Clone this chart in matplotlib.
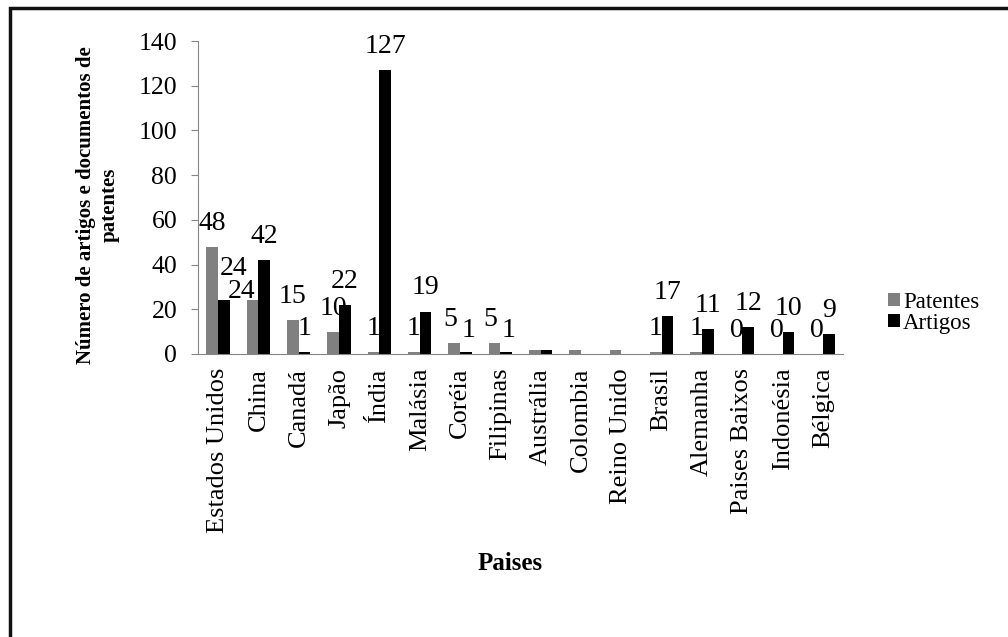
import matplotlib
matplotlib.use("Agg")
import matplotlib.pyplot as plt
from matplotlib.patches import Rectangle
import numpy as np

paises = [
    "Estados Unidos", "China", "Canadá", "Japão", "Índia", "Malásia",
    "Coréia", "Filipinas", "Austrália", "Colombia", "Reino Unido",
    "Brasil", "Alemanha", "Paises Baixos", "Indonésia", "Bélgica",
]
patentes = [48, 24, 15, 10, 1, 1, 5, 5, 2, 2, 2, 1, 1, 0, 0, 0]
artigos = [24, 42, 1, 22, 127, 19, 1, 1, 2, 0, 0, 17, 11, 12, 10, 9]
# countries whose bars carry no value label
sem_rotulo = ["Austrália", "Colombia", "Reino Unido"]

plt.rcParams["font.family"] = ["Liberation Serif", "DejaVu Serif"]

fig = plt.figure(figsize=(10.08, 6.37), dpi=100)
ax = fig.add_axes([0.1964, 0.4443, 0.6400, 0.4913])

x = np.arange(len(paises))
w = 0.29
bp = ax.bar(x - w / 2, patentes, w, color="#808080", label="Patentes")
ba = ax.bar(x + w / 2, artigos, w, color="#000000", label="Artigos")

# small nudges where labels would sit on top of each other
ajustes = {("A", 0): (7, 6), ("P", 1): (-8, -11), ("P", 6): (-3, 0),
           ("P", 7): (-3, 0), ("A", 6): (2, -2), ("A", 7): (2, -2)}

for serie, barras, valores in (("P", bp, patentes), ("A", ba, artigos)):
    for i, (rect, v) in enumerate(zip(barras, valores)):
        if paises[i] in sem_rotulo:
            continue
        dx, dy = ajustes.get((serie, i), (0, 0))
        ax.annotate(str(v), (rect.get_x() + rect.get_width() / 2, v),
                    xytext=(dx, 8 + dy), textcoords="offset points",
                    ha="center", va="bottom", fontsize=20)

ax.set_xlim(-0.5, len(paises) - 0.5)
ax.set_ylim(0, 140)
ax.set_yticks(range(0, 141, 20))
ax.set_xticks(x)
ax.set_xticklabels(paises, rotation=90, fontsize=19)
ax.tick_params(axis="y", labelsize=18.5, length=5, color="#868686", pad=10)
ax.tick_params(axis="x", length=0, pad=10)
for s in ("top", "right"):
    ax.spines[s].set_visible(False)
for s in ("left", "bottom"):
    ax.spines[s].set_color("#868686")

fig.text(0.097, 1 - 205 / 637, "Número de artigos e documentos de\npatentes",
         rotation=90, ha="center", va="center", multialignment="center",
         fontsize=15, fontweight="bold")
fig.text(510 / 1008, 1 - 563 / 637, "Paises", ha="center", va="center",
         fontsize=18, fontweight="bold")

fig.legend(handles=[bp, ba], loc="center left",
           bbox_to_anchor=(872 / 1008, 1 - 313 / 637), frameon=False,
           fontsize=16.5, handlelength=0.5, handleheight=0.5,
           handletextpad=0.15, labelspacing=0.0, borderpad=0.2)

# outer frame, open on the right and bottom
fig.patches.append(Rectangle((10 / 1008, -0.1), 1.2, 1 - 8 / 637 + 0.1,
                             transform=fig.transFigure, fill=False,
                             edgecolor="#111111", linewidth=2.5))

fig.savefig("out.png", dpi=100)
